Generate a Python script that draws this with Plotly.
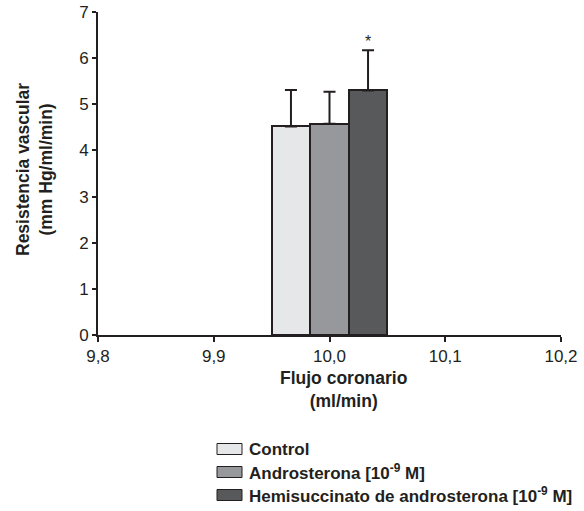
import plotly.graph_objects as go

groups = ["Control", "Androsterona [10<sup>-9</sup> M]", "Hemisuccinato de androsterona [10<sup>-9</sup> M]"]
x_pos = [9.9667, 10.0, 10.0333]
values = [4.52, 4.58, 5.30]
errors = [0.79, 0.69, 0.87]
colors = ["#e6e7e9", "#97989b", "#58595b"]
x_ticks = [9.8, 9.9, 10.0, 10.1, 10.2]
y_ticks = [0, 1, 2, 3, 4, 5, 6, 7]

W, H = 584, 511
L, R, T, B = 98, 23, 12, 176
pw, ph = W - L - R, H - T - B

def px(x):
    return (x - L) / pw

def py(y):
    return (H - B - y) / ph

ink = "#231f20"
FONT = "Liberation Sans, Arial, Helvetica, sans-serif"
fig = go.Figure()
for g, xp, v, e, c in zip(groups, x_pos, values, errors, colors):
    fig.add_trace(go.Bar(
        x=[xp], y=[v], width=0.0333, name=g,
        marker=dict(color=c, line=dict(color=ink, width=2)),
        error_y=dict(type="data", array=[e], symmetric=False, arrayminus=[0],
                     color=ink, thickness=2, width=6, visible=True),
        showlegend=False,
    ))

fig.add_annotation(x=x_pos[2], y=values[2] + errors[2], text="*", showarrow=False,
                   yanchor="bottom", yshift=-2, font=dict(size=16, color=ink, family=FONT))

fig.update_layout(
    width=W, height=H,
    margin=dict(l=L, r=R, t=T, b=B, autoexpand=False),
    plot_bgcolor="white", paper_bgcolor="white",
    separators=",.",
    font=dict(family=FONT, color=ink, size=17),
    xaxis=dict(range=[9.8, 10.2], tickvals=x_ticks, tickformat=".1f",
               showline=True, linecolor=ink, linewidth=2, showgrid=False,
               zeroline=False, ticks="outside", ticklen=5, tickwidth=2, tickcolor=ink,
               tickfont=dict(size=17, color=ink, family=FONT)),
    yaxis=dict(range=[0, 7], tickvals=y_ticks, showline=True, linecolor=ink, linewidth=2,
               showgrid=False, zeroline=False, ticks="outside", ticklen=4, tickwidth=2,
               tickcolor=ink, tickfont=dict(size=17, color=ink, family=FONT),
               ticklabeloverflow="allow"),
    bargap=0,
)

# axis titles
fig.add_annotation(xref="paper", yref="paper", x=px(343), y=py(366), yanchor="top",
                   xanchor="center", showarrow=False, align="center",
                   text="<b>Flujo coronario<br>(ml/min)</b>",
                   font=dict(size=17.5, color=ink, family=FONT))
fig.add_annotation(xref="paper", yref="paper", x=px(34), y=py(170), xanchor="center",
                   yanchor="middle", showarrow=False, textangle=-90, align="center",
                   text="<b>Resistencia vascular<br>(mm Hg/ml/min)</b>",
                   font=dict(size=17.5, color=ink, family=FONT))

# manual legend
rows = [449, 472, 495]
for g, c, ry in zip(groups, colors, rows):
    fig.add_shape(type="rect", xref="paper", yref="paper",
                  x0=px(217), x1=px(242), y0=py(ry - 5.5), y1=py(ry + 5.5),
                  fillcolor=c, line=dict(color=ink, width=1))
    fig.add_annotation(xref="paper", yref="paper", x=px(247), y=py(ry), xanchor="left",
                       yanchor="middle", showarrow=False, text="<b>" + g + "</b>",
                       font=dict(size=17, color=ink, family=FONT))

fig.write_html("out.html", config={"displayModeBar": False},
               post_script="document.body.style.margin='0';document.body.style.overflow='hidden';")
